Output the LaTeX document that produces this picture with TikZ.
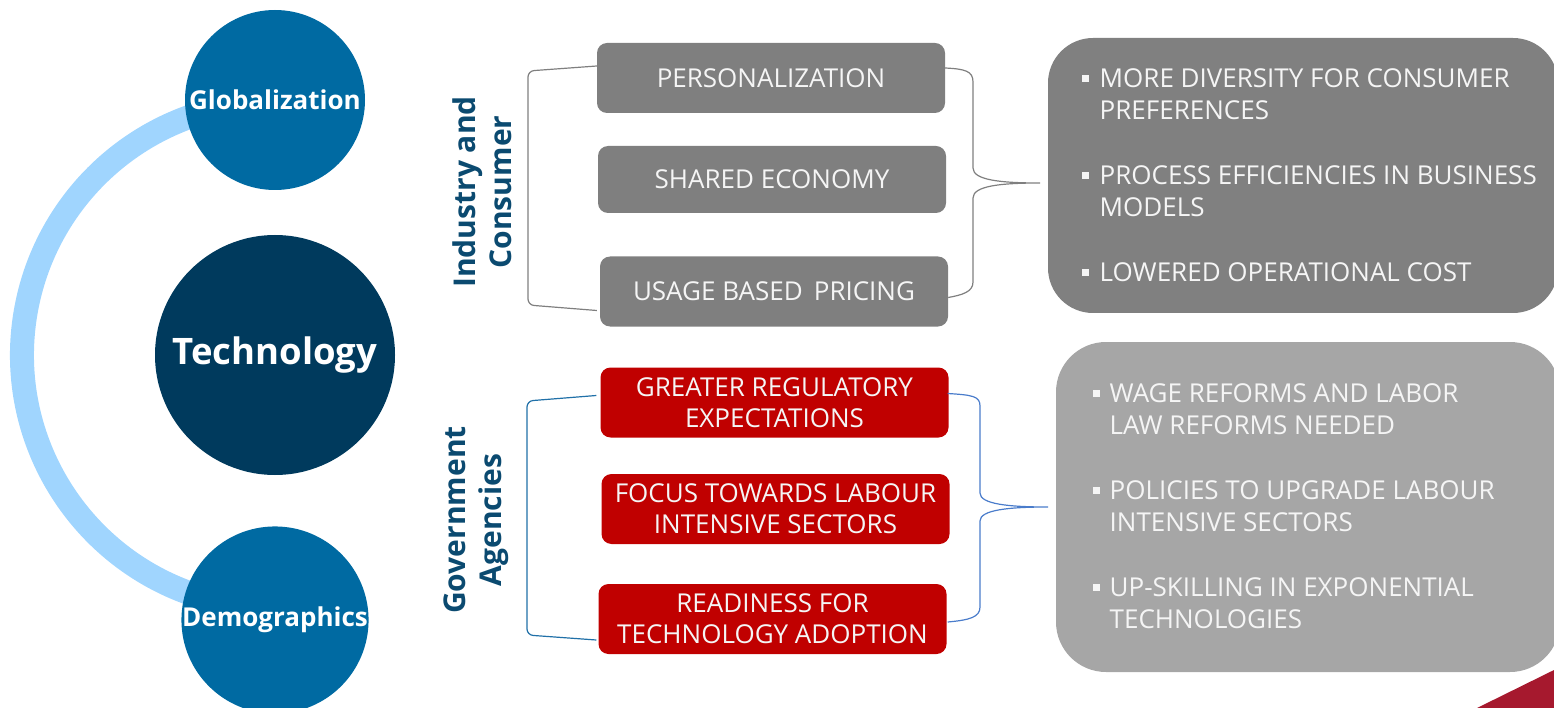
\documentclass[tikz,border=0pt]{standalone}
\usepackage{fontspec}
\setmainfont{Open Sans}
\usetikzlibrary{calc}

\definecolor{ringblue}{HTML}{A0D5FE}
\definecolor{circblue}{HTML}{006AA2}
\definecolor{techblue}{HTML}{003A5D}
\definecolor{labelblue}{HTML}{0B4A70}
\definecolor{boxgray}{HTML}{7F7F7F}
\definecolor{boxred}{HTML}{C00000}
\definecolor{paneldark}{HTML}{808080}
\definecolor{panellight}{HTML}{A6A6A6}
\definecolor{cornerred}{HTML}{A6192E}
\definecolor{bracketblue}{HTML}{2070A8}
\definecolor{braceblue}{HTML}{4A7CCB}

\newcommand\sqbullet{\raisebox{5.5pt}{\rule{6.5pt}{6.5pt}}}

\begin{document}
\begin{tikzpicture}[
    x=1pt, y=-1pt,
    driver/.style={
        circle,
        fill=circblue,
        minimum size=180,
        inner sep=0,
        text=white,
        font=\fontsize{26}{30}\selectfont\bfseries
    },
    trendbox/.style={
        rectangle,
        rounded corners=10,
        minimum width=348,
        minimum height=70,
        inner sep=0,
        text=white!96!black,
        font=\fontsize{26}{31}\selectfont,
        align=center
    },
    sidelabel/.style={
        rotate=90,
        text=labelblue,
        font=\fontsize{30}{36}\selectfont\bfseries,
        align=center
    },
    impacttext/.style={
        inner sep=0,
        text=white!96!black,
        font=\fontsize{26}{32}\selectfont
    }
]
\useasboundingbox (0,0) rectangle (1554,708);

% ring behind the three circles
\draw[ringblue, line width=24] (275,355) ++(100:253) arc[start angle=100, end angle=260, radius=253];

\node[driver] (glob) at (275,100) {Globalization};
\node[driver] (demo) at (275,620) {Demographics};
\node[driver, fill=techblue, minimum size=240, font=\fontsize{36.5}{42}\selectfont\bfseries] (tech) at (275,355) {Technology};

% side labels
\node[sidelabel] (indcon) at (482,192) {Industry and\\Consumer};
\node[sidelabel] (govag) at (476,520) {Government\\Agencies};

% trend boxes
\node[trendbox, fill=boxgray] (pers) at (771,78) {PERSONALIZATION};
\node[trendbox, fill=boxgray, minimum height=67] (shared) at (772,179.5) {SHARED ECONOMY};
\node[trendbox, fill=boxgray] (usage) at (774,291.5) {USAGE BASED\, PRICING};

\node[trendbox, fill=boxred] (regul) at (774.5,402.5) {GREATER REGULATORY\\EXPECTATIONS};
\node[trendbox, fill=boxred] (labour) at (775.5,509) {FOCUS TOWARDS LABOUR\\INTENSIVE SECTORS};
\node[trendbox, fill=boxred] (ready) at (772.5,619) {READINESS FOR\\TECHNOLOGY ADOPTION};

% brackets
\draw[boxgray, line width=1.2, rounded corners=6] ($(pers.west)+(0,-12)$) -- (528,71) -- (528,305) -- ($(usage.west)+(-3,19)$);
\draw[bracketblue, line width=1.2, rounded corners=6] ($(regul.west)+(-4,-7)$) -- (527,401) -- (527,635) -- ($(ready.west)+(-2,21)$);

\coordinate (tipA) at (1040,183);
\coordinate (tipB) at (1048,507);

\draw[boxgray, line width=1.2] ($(pers.east)+(0,-10)$) .. controls (965,69) and (973,71) .. (973,82) -- (973,168)
    .. controls (973,180) and (1000,183) .. (tipA) .. controls (1000,183) and (973,186) .. (973,198) -- (973,282)
    .. controls (973,292) and (962,295) .. ($(usage.east)+(0,6)$);
\draw[braceblue, line width=1.2] ($(regul.east)+(-1,-9)$) .. controls (972,395) and (980,396) .. (980,406) -- (980,493)
    .. controls (980,504) and (1008,507) .. (tipB) .. controls (1008,507) and (980,510) .. (980,521) -- (980,607)
    .. controls (980,617) and (970,620) .. ($(ready.east)+(1,3)$);

% impact panels
\node[fill=paneldark, rounded corners=45, minimum width=510, minimum height=275, inner sep=0] (panA) at (1303,175.5) {};
\node[fill=panellight, rounded corners=50, minimum width=504, minimum height=330, inner sep=0] (panB) at (1308,507) {};

\node[impacttext, anchor=north west] (listA) at (1082,64.6) {%
    \begin{tabular}{@{}l@{\hspace{11pt}}l@{}}
    \sqbullet & MORE DIVERSITY FOR CONSUMER\\
              & PREFERENCES\\[33pt]
    \sqbullet & PROCESS EFFICIENCIES IN BUSINESS\\
              & MODELS\\[33pt]
    \sqbullet & LOWERED OPERATIONAL COST
    \end{tabular}};

\node[impacttext, anchor=north west] (listB) at (1093,379.6) {%
    \begin{tabular}{@{}l@{\hspace{10pt}}l@{}}
    \sqbullet & WAGE REFORMS AND LABOR\\
              & LAW REFORMS NEEDED\\[33pt]
    \sqbullet & POLICIES TO UPGRADE LABOUR\\
              & INTENSIVE SECTORS\\[33pt]
    \sqbullet & UP-SKILLING IN EXPONENTIAL\\
              & TECHNOLOGIES
    \end{tabular}};

% corner accent
\fill[cornerred] (1477,708) -- (1554,670) -- (1554,708) -- cycle;

\end{tikzpicture}
\end{document}
